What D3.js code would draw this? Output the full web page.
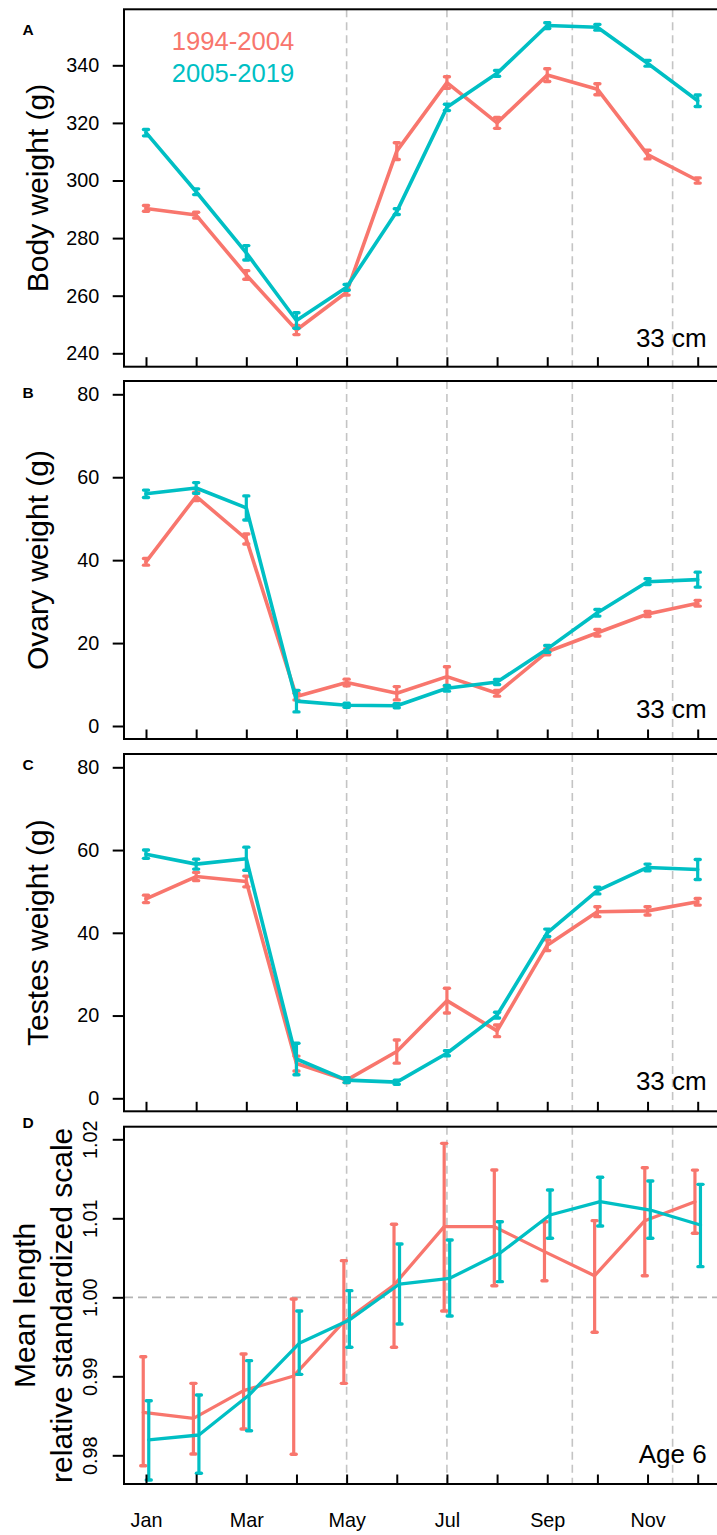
<!DOCTYPE html>
<html>
<head>
<meta charset="utf-8">
<script src="https://cdn.jsdelivr.net/npm/d3@7"></script>
<style>
  html, body { margin: 0; padding: 0; background: #fff; }
  svg { display: block; font-family: "Liberation Sans", Arial, sans-serif; }
</style>
</head>
<body>
<svg id="chart" width="717" height="1535"></svg>
<script>
// ---------------- DATA ----------------
const months = ["Jan","Feb","Mar","Apr","May","Jun","Jul","Aug","Sep","Oct","Nov","Dec"];
const monthLabels = ["Jan","","Mar","","May","","Jul","","Sep","","Nov",""];
const periodNames = ["1994-2004", "2005-2019"];
const dashedMonths = [5, 7, 9.5, 11.5];

// Panel A: body weight (g)
const bodyRed  = [290.3, 288.0, 267.2, 248.1, 261.2, 310.2, 334.0, 320.0, 336.6, 331.7, 309.0, 300.0];
const bodyRedErr = [1.0, 1.0, 1.5, 1.6, 1.0, 2.9, 2.0, 1.9, 2.2, 1.9, 1.5, 0.9];
const bodyBlue = [316.6, 296.1, 274.9, 251.4, 262.9, 289.2, 325.4, 337.2, 353.8, 353.2, 340.7, 327.7];
const bodyBlueErr = [1.1, 1.0, 2.5, 2.7, 1.0, 1.0, 1.1, 1.0, 1.0, 1.0, 1.0, 2.0];
const bodyTicks = [240, 260, 280, 300, 320, 340];

// Panel B: ovary weight (g)
const ovaryRed  = [39.6, 55.4, 45.1, 7.1, 10.5, 7.9, 11.9, 7.9, 17.9, 22.5, 27.0, 29.6];
const ovaryRedErr = [0.8, 1.0, 1.2, 0.8, 0.8, 1.6, 2.4, 0.7, 0.7, 0.8, 0.6, 0.7];
const ovaryBlue = [56.0, 57.4, 52.6, 6.0, 5.0, 4.9, 9.1, 10.6, 18.6, 27.3, 34.8, 35.3];
const ovaryBlueErr = [0.9, 1.3, 2.9, 2.6, 0.5, 0.5, 0.7, 0.6, 0.8, 0.8, 0.7, 1.8];
const ovaryTicks = [0, 20, 40, 60, 80];

// Panel C: testes weight (g)
const testesRed  = [48.2, 53.6, 52.4, 8.4, 4.4, 11.3, 23.6, 16.3, 37.0, 45.1, 45.3, 47.5];
const testesRedErr = [0.9, 1.0, 1.3, 1.8, 0.6, 2.8, 3.0, 1.4, 1.3, 1.2, 1.0, 0.8];
const testesBlue = [59.0, 56.6, 57.9, 9.5, 4.4, 3.9, 10.9, 20.1, 40.0, 50.2, 55.8, 55.3];
const testesBlueErr = [1.0, 1.2, 2.8, 3.8, 0.6, 0.5, 0.6, 0.7, 0.9, 0.8, 0.8, 2.4];
const testesTicks = [0, 20, 40, 60, 80];

// Panel D: mean length, relative standardized scale (age 6)
const lenRed   = [0.98544, 0.98468, 0.98818, 0.99004, 0.99691, 1.00156, 1.00894, 1.00894, 1.00578, 1.00273, 1.00970, 1.01210];
const lenRedLo = [0.97868, 0.98016, 0.98333, 0.98013, 0.98911, 0.99367, 0.99827, 1.00147, 1.00210, 0.99557, 1.00273, 1.00810];
const lenRedHi = [0.99248, 0.98911, 0.99282, 0.99978, 1.00464, 1.00924, 1.01949, 1.01611, 1.00957, 1.00970, 1.01640, 1.01610];
const lenBlue   = [0.98194, 0.98257, 0.98763, 0.99418, 0.99713, 1.00168, 1.00240, 1.00557, 1.01042, 1.01210, 1.01105, 1.00915];
const lenBlueLo = [0.97687, 0.97772, 0.98311, 0.99025, 0.99367, 0.99662, 0.99763, 1.00198, 1.00747, 1.00903, 1.00747, 1.00388];
const lenBlueHi = [0.98691, 0.98763, 0.99198, 0.99827, 1.00084, 1.00675, 1.00725, 1.00957, 1.01358, 1.01519, 1.01472, 1.01430];
const lenTicks = [0.98, 0.99, 1.00, 1.01, 1.02];

// ---------------- LAYOUT ----------------
const RED = "#F8766D", BLUE = "#00BFC4";
const svg = d3.select("#chart");
const left = 124, right = 740;
const x = d3.scaleLinear().domain([1, 12]).range([146, 697.7]);

const panels = [
  { letter: "A", top: 9.3, bottom: 366.7, domain: [240, 340], range: [353.3, 65.3], ticks: bodyTicks,
    title: ["Body weight (g)"], note: "33 cm", noteY: 346.7, letterY: 35,
    series: [
      { c: RED,  m: bodyRed,  lo: bodyRed.map((v,i)=>v-bodyRedErr[i]),  hi: bodyRed.map((v,i)=>v+bodyRedErr[i]) },
      { c: BLUE, m: bodyBlue, lo: bodyBlue.map((v,i)=>v-bodyBlueErr[i]), hi: bodyBlue.map((v,i)=>v+bodyBlueErr[i]) }
    ], dodge: 0, lw: 3.6, legend: true },
  { letter: "B", top: 381, bottom: 739, domain: [0, 80], range: [726, 394.3], ticks: ovaryTicks,
    title: ["Ovary weight (g)"], note: "33 cm", noteY: 718.3, letterY: 398.3,
    series: [
      { c: RED,  m: ovaryRed,  lo: ovaryRed.map((v,i)=>v-ovaryRedErr[i]),  hi: ovaryRed.map((v,i)=>v+ovaryRedErr[i]) },
      { c: BLUE, m: ovaryBlue, lo: ovaryBlue.map((v,i)=>v-ovaryBlueErr[i]), hi: ovaryBlue.map((v,i)=>v+ovaryBlueErr[i]) }
    ], dodge: 0, lw: 3.6 },
  { letter: "C", top: 754, bottom: 1111.3, domain: [0, 80], range: [1098.3, 767.3], ticks: testesTicks,
    title: ["Testes weight (g)"], note: "33 cm", noteY: 1090, letterY: 770,
    series: [
      { c: RED,  m: testesRed,  lo: testesRed.map((v,i)=>v-testesRedErr[i]),  hi: testesRed.map((v,i)=>v+testesRedErr[i]) },
      { c: BLUE, m: testesBlue, lo: testesBlue.map((v,i)=>v-testesBlueErr[i]), hi: testesBlue.map((v,i)=>v+testesBlueErr[i]) }
    ], dodge: 0, lw: 3.6 },
  { letter: "D", top: 1126.7, bottom: 1484, domain: [0.98, 1.02], range: [1455.3, 1139.3], ticks: lenTicks,
    title: ["Mean length", "relative standardized scale"], note: "Age 6", noteY: 1462.7, letterY: 1128.3,
    series: [
      { c: RED,  m: lenRed,  lo: lenRedLo,  hi: lenRedHi },
      { c: BLUE, m: lenBlue, lo: lenBlueLo, hi: lenBlueHi }
    ], dodge: 0.055, lw: 3.3, rotatedTicks: true, hline: 1.00, xlabels: true }
];

panels.forEach(p => {
  const y = d3.scaleLinear().domain(p.domain).range(p.range);
  const g = svg.append("g");

  // dashed month separators
  g.selectAll("line.vd").data(dashedMonths).enter().append("line")
    .attr("x1", d => x(d)).attr("x2", d => x(d))
    .attr("y1", p.top).attr("y2", p.bottom)
    .attr("stroke", "#c4c4c4").attr("stroke-width", 1.6)
    .attr("stroke-dasharray", "8,5");

  if (p.hline !== undefined) {
    g.append("line")
      .attr("x1", left).attr("x2", right)
      .attr("y1", y(p.hline)).attr("y2", y(p.hline))
      .attr("stroke", "#b4b4b4").attr("stroke-width", 1.8)
      .attr("stroke-dasharray", "9,5");
  }

  // series
  p.series.forEach((s, si) => {
    const off = si === 0 ? -p.dodge : p.dodge;
    const xs = months.map((m, i) => x(i + 1 + off));
    const sg = g.append("g");
    const line = d3.line().x((d, i) => xs[i]).y(d => y(d));
    sg.append("path").datum(s.m).attr("d", line)
      .attr("fill", "none").attr("stroke", s.c).attr("stroke-width", p.lw)
      .attr("stroke-linejoin", "round").attr("stroke-linecap", "round");
    const eb = sg.selectAll("g.eb").data(s.m.map((v, i) => i)).enter().append("g");
    eb.append("line")
      .attr("x1", i => xs[i]).attr("x2", i => xs[i])
      .attr("y1", i => y(s.lo[i])).attr("y2", i => y(s.hi[i]))
      .attr("stroke", s.c).attr("stroke-width", 3.2);
    [s.lo, s.hi].forEach(arr => {
      eb.append("line")
        .attr("x1", i => xs[i] - 2.5).attr("x2", i => xs[i] + 2.5)
        .attr("y1", i => y(arr[i])).attr("y2", i => y(arr[i]))
        .attr("stroke", s.c).attr("stroke-width", 3.4).attr("stroke-linecap", "round");
    });
  });

  // box
  g.append("rect")
    .attr("x", left).attr("y", p.top)
    .attr("width", right - left).attr("height", p.bottom - p.top)
    .attr("fill", "none").attr("stroke", "#000").attr("stroke-width", 2);

  // y axis
  const ya = g.append("g").attr("transform", `translate(${left},0)`)
    .call(d3.axisLeft(y).tickValues(p.ticks).tickSize(11.3).tickPadding(13.4)
      .tickFormat(p.rotatedTicks ? d3.format(".2f") : d3.format("d")));
  ya.select(".domain").remove();
  ya.selectAll(".tick line").attr("stroke", "#000").attr("stroke-width", 2);
  ya.selectAll(".tick text").attr("font-size", 19.8).attr("fill", "#000")
    .attr("font-family", "Liberation Sans, Arial, sans-serif");
  if (p.rotatedTicks) {
    ya.selectAll(".tick text")
      .attr("x", null).attr("dy", null)
      .attr("text-anchor", "middle")
      .attr("transform", "translate(-27.3,0) rotate(-90)");
  }

  // x axis (inward ticks)
  const xa = g.append("g").attr("transform", `translate(0,${p.bottom})`)
    .call(d3.axisBottom(x).tickValues(d3.range(1, 13)).tickSize(-9.5).tickPadding(29)
      .tickFormat(d => p.xlabels ? monthLabels[d - 1] : ""));
  xa.select(".domain").remove();
  xa.selectAll(".tick line").attr("stroke", "#000").attr("stroke-width", 2);
  xa.selectAll(".tick text").attr("font-size", 19.8).attr("fill", "#000")
    .attr("font-family", "Liberation Sans, Arial, sans-serif");

  // y title
  const cy = (p.top + p.bottom) / 2;
  const baseX = p.title.length === 1 ? [48.2] : [34.8, 71.7];
  p.title.forEach((t, ti) => {
    g.append("text").text(t)
      .attr("transform", `translate(${baseX[ti]},${cy}) rotate(-90)`)
      .attr("text-anchor", "middle").attr("font-size", 30).attr("fill", "#000");
  });

  // panel letter
  g.append("text").text(p.letter)
    .attr("x", 22.5).attr("y", p.letterY)
    .attr("font-size", 15.5).attr("font-weight", "bold").attr("fill", "#000");

  // note
  g.append("text").text(p.note)
    .attr("x", 706.7).attr("y", p.noteY).attr("text-anchor", "end")
    .attr("font-size", 26).attr("fill", "#000");

  // legend
  if (p.legend) {
    g.append("text").text(periodNames[0]).attr("x", 233).attr("y", 50)
      .attr("text-anchor", "middle").attr("font-size", 25.6).attr("fill", RED);
    g.append("text").text(periodNames[1]).attr("x", 233).attr("y", 81.7)
      .attr("text-anchor", "middle").attr("font-size", 25.6).attr("fill", BLUE);
  }
});
</script>
</body>
</html>
